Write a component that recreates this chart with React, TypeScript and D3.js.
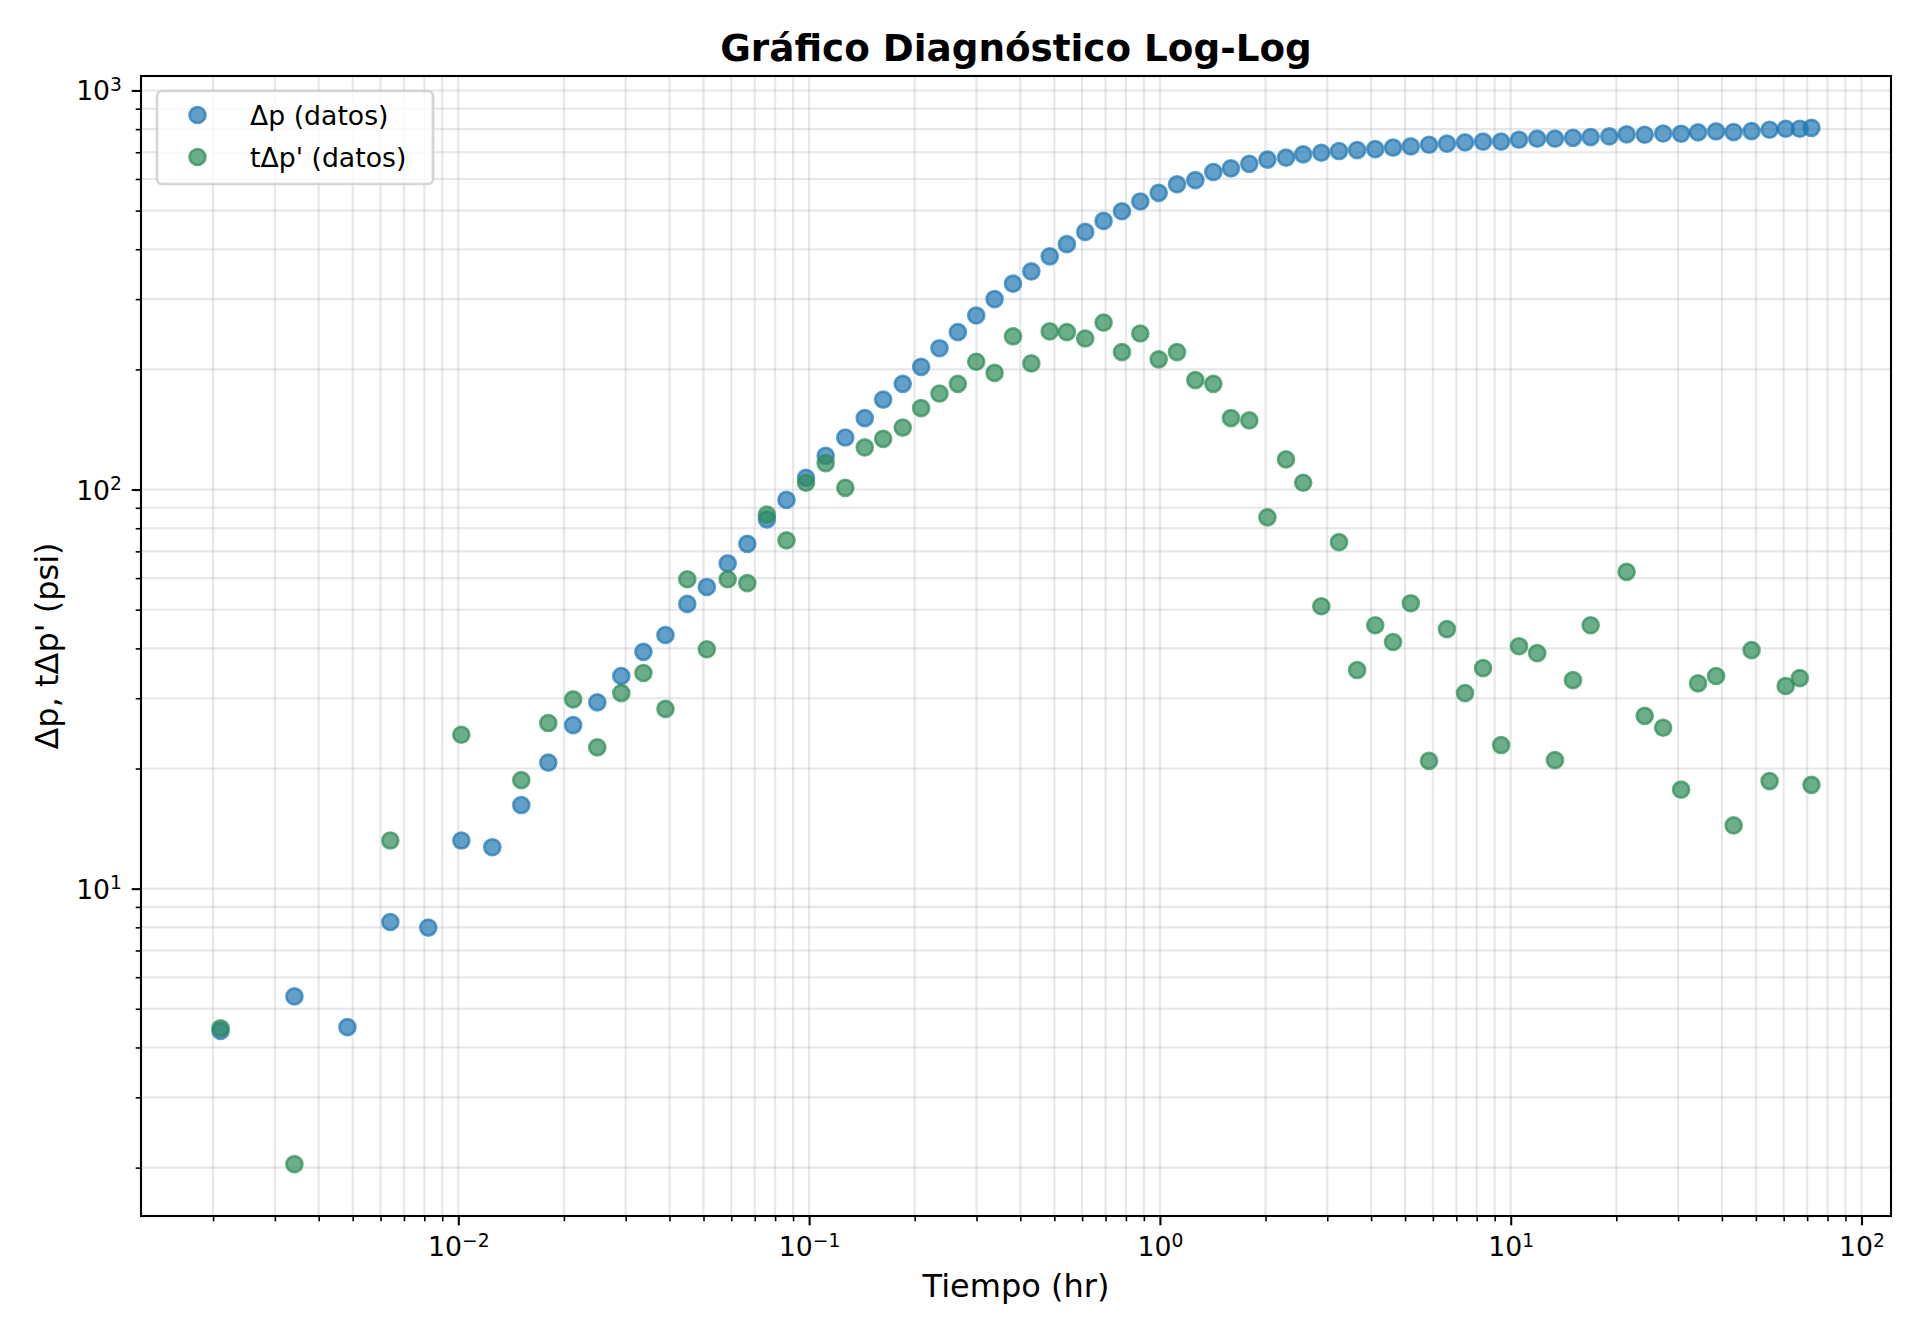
import { useEffect, useRef } from "react";
import * as d3 from "d3";

// Tiempo (hr), shared by both series
const tiempo = [
  0.0021, 0.00341, 0.00483, 0.0064, 0.00821, 0.0102, 0.0125, 0.01512, 0.01805,
  0.02125, 0.0249, 0.02915, 0.0337, 0.03895, 0.04495, 0.0511, 0.0586, 0.06665,
  0.0758, 0.0862, 0.098, 0.1115, 0.1268, 0.1441, 0.1626, 0.1849, 0.2086,
  0.2353, 0.2655, 0.2995, 0.3379, 0.3812, 0.43, 0.4852, 0.543, 0.6125, 0.691,
  0.7795, 0.8793, 0.992, 1.119, 1.262, 1.42, 1.594, 1.798, 2.025, 2.288, 2.561,
  2.885, 3.24, 3.65, 4.11, 4.62, 5.19, 5.85, 6.58, 7.41, 8.34, 9.39, 10.56,
  11.9, 13.37, 15.05, 16.9, 19.1, 21.4, 24.1, 27.2, 30.6, 34.2, 38.5, 43.2,
  48.6, 54.7, 60.8, 66.7, 72.0,
];

// Δp (psi)
const deltaP = [
  4.4, 5.37, 4.5, 8.25, 7.99, 13.2, 12.7, 16.2, 20.7, 25.7, 29.3, 34.1, 39.2,
  43.2, 51.7, 57.0, 65.3, 73.1, 84.2, 94.2, 107, 121.5, 135, 151, 168, 184,
  203, 226, 248, 273, 300, 328, 352, 384, 412, 442, 471, 498, 527, 554, 582,
  596, 624.6, 638, 655, 671, 678.5, 691.6, 698, 705, 709, 713, 719, 724, 731,
  735.5, 741, 744, 744, 752.5, 757, 757, 761, 764, 767, 776, 774.5, 780, 779,
  785, 789.5, 786.5, 791, 797, 801.6, 801.6, 806,
];

// tΔp' (psi), null where no value was plotted
const derivada: (number | null)[] = [
  4.47, 2.04, null, 13.2, null, 24.3, null, 18.7, 26.0, 29.8, 22.6, 30.9, 34.7,
  28.2, 59.6, 39.8, 59.6, 58.3, 86.5, 74.6, 104, 116.5, 101, 127.5, 134, 143,
  160, 174, 184, 209, 196, 242, 207, 249, 248, 239, 262, 221, 246, 212, 221,
  188, 184, 151, 149, 85.2, 119, 104, 51.0, 73.8, 35.3, 45.7, 41.5, 51.9, 20.9,
  44.7, 30.9, 35.7, 22.9, 40.5, 38.9, 21.0, 33.3, 45.7, null, 62.2, 27.1, 25.3,
  17.7, 32.7, 34.1, 14.4, 39.6, 18.6, 32.2, 33.7, 18.2,
];

const seriesLabels = ["Δp (datos)", "tΔp' (datos)"];
const seriesColors = ["#1f77b4", "#2e8b57"];

const W = 1920;
const H = 1344;
const margin = { top: 76, right: 29, bottom: 128, left: 141 };
const FONT = "'DejaVu Sans', sans-serif";

function padLog(lo: number, hi: number): [number, number] {
  const a = Math.log10(lo);
  const b = Math.log10(hi);
  const m = (b - a) * 0.05;
  return [10 ** (a - m), 10 ** (b + m)];
}

const isDecade = (v: number) =>
  Math.abs(Math.log10(v) - Math.round(Math.log10(v))) < 1e-6;

export default function App() {
  const svgRef = useRef<SVGSVGElement>(null);

  useEffect(() => {
    const width = W - margin.left - margin.right;
    const height = H - margin.top - margin.bottom;

    const svg = d3.select(svgRef.current);
    svg.selectAll("*").remove();

    const g = svg
      .append("g")
      .attr("transform", `translate(${margin.left},${margin.top})`);

    const pts1 = tiempo.map((t, i) => ({ t, v: deltaP[i] }));
    const pts2 = tiempo
      .map((t, i) => ({ t, v: derivada[i] }))
      .filter((d) => d.v !== null) as { t: number; v: number }[];

    const allV = [...pts1, ...pts2].map((d) => d.v);
    const x = d3
      .scaleLog()
      .domain(padLog(d3.min(tiempo)!, d3.max(tiempo)!))
      .range([0, width]);
    const y = d3
      .scaleLog()
      .domain(padLog(d3.min(allV)!, d3.max(allV)!))
      .range([height, 0]);

    const xTicks = x.ticks();
    const yTicks = y.ticks();
    const xMajor = xTicks.filter(isDecade);
    const yMajor = yTicks.filter(isDecade);
    const xMinor = xTicks.filter((v) => !isDecade(v));
    const yMinor = yTicks.filter((v) => !isDecade(v));

    // Grid (major + minor)
    const grid = g.append("g");
    grid
      .selectAll("line.gx")
      .data(xTicks)
      .enter()
      .append("line")
      .attr("x1", (d) => x(d))
      .attr("x2", (d) => x(d))
      .attr("y1", 0)
      .attr("y2", height);
    grid
      .selectAll("line.gy")
      .data(yTicks)
      .enter()
      .append("line")
      .attr("x1", 0)
      .attr("x2", width)
      .attr("y1", (d) => y(d))
      .attr("y2", (d) => y(d));
    grid
      .selectAll("line")
      .attr("stroke", "#b0b0b0")
      .attr("stroke-opacity", 0.3)
      .attr("stroke-width", 2.1);

    // Points
    [pts1, pts2].forEach((pts, k) => {
      g.append("g")
        .selectAll("circle")
        .data(pts)
        .enter()
        .append("circle")
        .attr("cx", (d) => x(d.t))
        .attr("cy", (d) => y(d.v))
        .attr("r", 8)
        .attr("fill", seriesColors[k])
        .attr("fill-opacity", 0.7)
        .attr("stroke", seriesColors[k])
        .attr("stroke-opacity", 0.7)
        .attr("stroke-width", 2.67);
    });

    // Axes
    const supLabel = (
      sel: d3.Selection<SVGGElement, unknown, null, undefined>,
      anchor: string
    ) => {
      sel.selectAll<SVGGElement, number>(".tick").each(function (d) {
        const e = Math.round(Math.log10(d));
        const t = d3.select(this).select("text");
        t.text(null)
          .attr("font-family", FONT)
          .attr("font-size", 26.7)
          .attr("fill", "#000")
          .attr("text-anchor", anchor);
        t.append("tspan").text("10");
        t.append("tspan")
          .attr("font-size", 18.7)
          .attr("dy", -9.5)
          .text(e < 0 ? `\u2212${-e}` : `${e}`);
      });
    };

    const xAxis = g
      .append("g")
      .attr("transform", `translate(0,${height})`)
      .call(
        d3.axisBottom(x).tickValues(xMajor).tickSize(9.3).tickPadding(9.3)
      );
    supLabel(xAxis, "middle");
    xAxis.selectAll(".tick text").attr("dy", null).attr("y", 40);

    g.append("g")
      .attr("transform", `translate(0,${height})`)
      .call(
        d3
          .axisBottom(x)
          .tickValues(xMinor)
          .tickSize(5.3)
          .tickFormat(() => "")
      )
      .selectAll(".tick line")
      .attr("stroke-width", 1.6);

    const yAxis = g
      .append("g")
      .call(d3.axisLeft(y).tickValues(yMajor).tickSize(9.3).tickPadding(9.3));
    supLabel(yAxis, "end");
    yAxis.selectAll(".tick text").attr("dy", null).attr("x", -19).attr("y", 9.5);

    g.append("g")
      .call(
        d3
          .axisLeft(y)
          .tickValues(yMinor)
          .tickSize(5.3)
          .tickFormat(() => "")
      )
      .selectAll(".tick line")
      .attr("stroke-width", 1.6);

    g.selectAll(".domain").remove();
    xAxis.selectAll(".tick line").attr("stroke-width", 2.1);
    yAxis.selectAll(".tick line").attr("stroke-width", 2.1);

    // Spines
    g.append("rect")
      .attr("width", width)
      .attr("height", height)
      .attr("fill", "none")
      .attr("stroke", "#000")
      .attr("stroke-width", 2.1);

    // Labels
    g.append("text")
      .attr("x", width / 2)
      .attr("y", height + 81)
      .attr("text-anchor", "middle")
      .attr("font-family", FONT)
      .attr("font-size", 32)
      .text("Tiempo (hr)");

    g.append("text")
      .attr("transform", "rotate(-90)")
      .attr("x", -height / 2)
      .attr("y", 58 - margin.left)
      .attr("text-anchor", "middle")
      .attr("font-family", FONT)
      .attr("font-size", 32)
      .text("Δp, tΔp' (psi)");

    g.append("text")
      .attr("x", width / 2)
      .attr("y", -15.5)
      .attr("text-anchor", "middle")
      .attr("font-family", FONT)
      .attr("font-size", 37.3)
      .attr("font-weight", "bold")
      .text("Gráfico Diagnóstico Log-Log");

    // Legend
    const lg = svg.append("g").attr("transform", "translate(157,91)");
    lg.append("rect")
      .attr("width", 276)
      .attr("height", 93)
      .attr("rx", 5.3)
      .attr("fill", "#fff")
      .attr("fill-opacity", 0.8)
      .attr("stroke", "#cccccc")
      .attr("stroke-opacity", 0.8)
      .attr("stroke-width", 2.67);
    seriesLabels.forEach((label, k) => {
      const cy = 24 + k * 42;
      lg.append("circle")
        .attr("cx", 40.5)
        .attr("cy", cy)
        .attr("r", 8)
        .attr("fill", seriesColors[k])
        .attr("fill-opacity", 0.7)
        .attr("stroke", seriesColors[k])
        .attr("stroke-opacity", 0.7)
        .attr("stroke-width", 2.67);
      lg.append("text")
        .attr("x", 93)
        .attr("y", cy + 9.5)
        .attr("font-family", FONT)
        .attr("font-size", 26.7)
        .text(label);
    });
  }, []);

  return (
    <svg
      ref={svgRef}
      width={W}
      height={H}
      style={{ position: "absolute", left: 0, top: 0, background: "#fff" }}
    />
  );
}
